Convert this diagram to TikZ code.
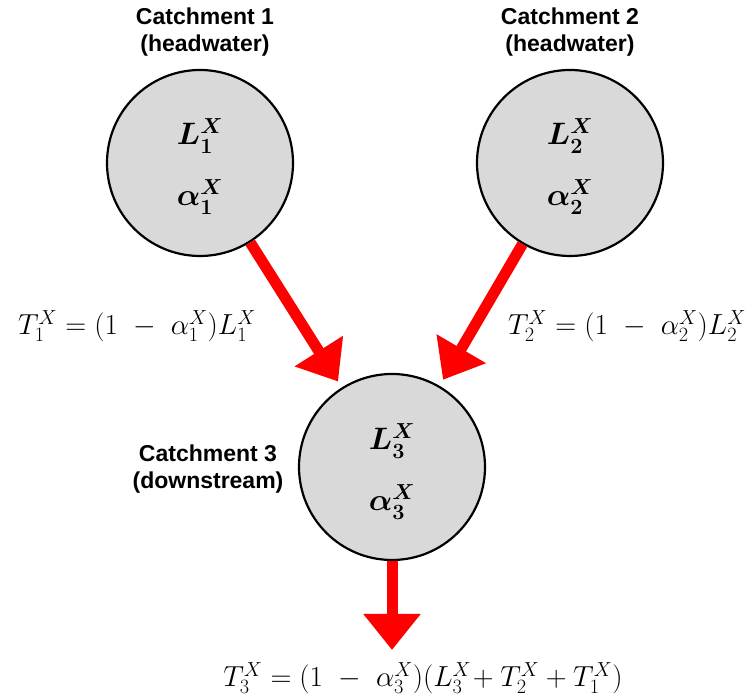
\RequirePackage{fix-cm}
\documentclass[tikz,border=0pt]{standalone}
\usepackage{amsmath}
\usepackage{fontspec}
\setsansfont{Liberation Sans}
\usetikzlibrary{arrows.meta}
\definecolor{nodegray}{HTML}{D9D9D9}
\definecolor{arrowred}{HTML}{FF0000}
\begin{document}
\begin{tikzpicture}[x=1pt,y=1pt,
  catch/.style={circle, draw=black, line width=2.2pt, fill=nodegray, minimum size=186pt, inner sep=0pt},
  title/.style={font=\fontsize{23}{27}\selectfont\sffamily\bfseries, align=center, inner sep=0pt},
  eq/.style={font=\fontsize{29}{35}\selectfont, inner sep=0pt},
  inmath/.style={font=\fontsize{31}{37}\selectfont, inner sep=0pt},
  flow/.style={draw=arrowred, line width=11pt, -{Triangle[width=55pt,length=36pt]}}]
\useasboundingbox (0,0) rectangle (756,700);

% catchments
\node[catch] (c1) at (200,537) {};
\node[catch] (c2) at (570,537) {};
\node[catch] (c3) at (392,233) {};

\node[inmath] (l1) at (200,564) {$\boldsymbol{L_1^X}$};
\node[inmath] (a1) at (200,503) {$\boldsymbol{\alpha_1^X}$};
\node[inmath] (l2) at (570,564) {$\boldsymbol{L_2^X}$};
\node[inmath] (a2) at (570,503) {$\boldsymbol{\alpha_2^X}$};
\node[inmath] (l3) at (392,259) {$\boldsymbol{L_3^X}$};
\node[inmath] (a3) at (392,198) {$\boldsymbol{\alpha_3^X}$};

% titles
\node[title] (t1) at (205,668) {Catchment 1\\(headwater)};
\node[title] (t2) at (570,668) {Catchment 2\\(headwater)};
\node[title] (t3) at (208,231) {Catchment 3\\(downstream)};

% flows
\coordinate (out) at (392,50);
\draw[flow, shorten >=7pt] (c1) -- (c3);
\draw[flow, shorten >=7pt] (c2) -- (c3);
\draw[flow] (c3) -- (out);

% equations
\node[eq] (e1) at (137,374) {$T_1^X = (1\ -\ \alpha_1^X)L_1^X$};
\node[eq] (e2) at (627,374) {$T_2^X = (1\ -\ \alpha_2^X)L_2^X$};
\node[eq] (e3) at (423,22) {$T_3^X = (1\ -\ \alpha_3^X)(L_3^X\!+T_2^X+T_1^X)$};
\end{tikzpicture}
\end{document}
